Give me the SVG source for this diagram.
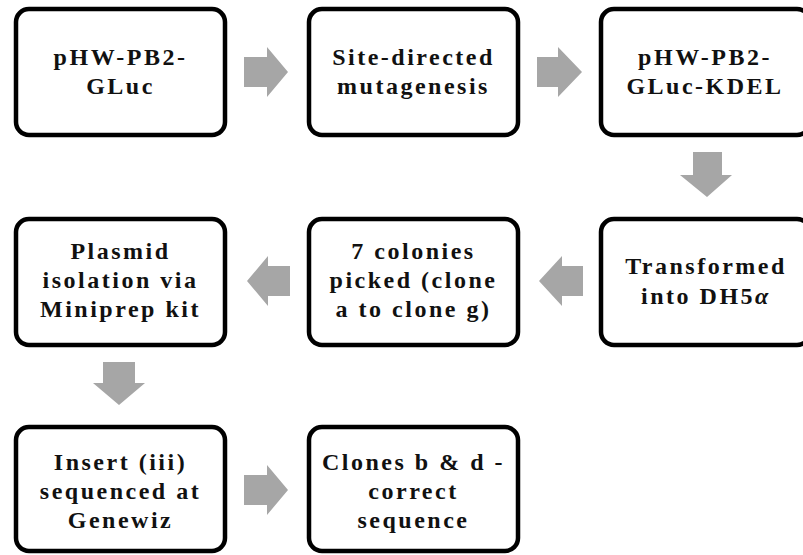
<svg xmlns="http://www.w3.org/2000/svg" width="803" height="555" viewBox="0 0 803 555">
<style>
.box{fill:#fff;stroke:#000;stroke-width:4.5}
.t{font-family:'Liberation Serif',serif;font-weight:700;font-size:24px;letter-spacing:2.5px;text-anchor:middle;fill:#111}
.arr{fill:#a6a6a6}
</style>
<rect width="803" height="555" fill="#fff"/>
<g id="connectors">
<polygon class="arr" points="244,57 267,57 267,47 288,72 267,97 267,87 244,87"/>
<polygon class="arr" points="537,57 558,57 558,47 582,72 558,97 558,87 537,87"/>
<polygon class="arr" points="693,152 722,152 722,175 732,175 707,197 680,175 693,175"/>
<polygon class="arr" points="583,266 562,266 562,256 539,281 562,306 562,296 583,296"/>
<polygon class="arr" points="290,266 268,266 268,256 247,281 268,306 268,296 290,296"/>
<polygon class="arr" points="103,362 135,362 135,383 145,383 119,405 93,383 103,383"/>
<polygon class="arr" points="244,475 267,475 267,465 288,490 267,515 267,505 244,505"/>
</g>
<g id="n1"><rect class="box" x="16" y="9" width="209" height="126" rx="13"/>
<text class="t" x="120.5" y="65">pHW-PB2-</text><text class="t" x="120.5" y="94">GLuc</text></g>
<g id="n2"><rect class="box" x="309" y="9" width="209" height="126" rx="13"/>
<text class="t" x="413.5" y="65">Site-directed</text><text class="t" x="413.5" y="94">mutagenesis</text></g>
<g id="n3"><rect class="box" x="601" y="9" width="209" height="126" rx="13"/>
<text class="t" x="705" y="65">pHW-PB2-</text><text class="t" x="705" y="94">GLuc-KDEL</text></g>
<g id="n6"><rect class="box" x="601" y="219" width="209" height="126" rx="13"/>
<text class="t" x="706" y="274">Transformed</text><text class="t" x="706" y="304">into DH5<tspan font-style="italic">α</tspan></text></g>
<g id="n5"><rect class="box" x="309" y="219" width="209" height="126" rx="13"/>
<text class="t" x="413.5" y="259">7 colonies</text><text class="t" x="413.5" y="288">picked (clone</text><text class="t" x="413.5" y="317">a to clone g)</text></g>
<g id="n4"><rect class="box" x="16" y="219" width="209" height="126" rx="13"/>
<text class="t" x="120.5" y="259">Plasmid</text><text class="t" x="120.5" y="288">isolation via</text><text class="t" x="120.5" y="317">Miniprep kit</text></g>
<g id="n7"><rect class="box" x="16" y="427" width="209" height="124" rx="13"/>
<text class="t" x="120.5" y="470">Insert (iii)</text><text class="t" x="120.5" y="499">sequenced at</text><text class="t" x="120.5" y="528">Genewiz</text></g>
<g id="n8"><rect class="box" x="309" y="427" width="209" height="124" rx="13"/>
<text class="t" x="413.5" y="470">Clones b &amp; d -</text><text class="t" x="413.5" y="499">correct</text><text class="t" x="413.5" y="528">sequence</text></g>
</svg>
